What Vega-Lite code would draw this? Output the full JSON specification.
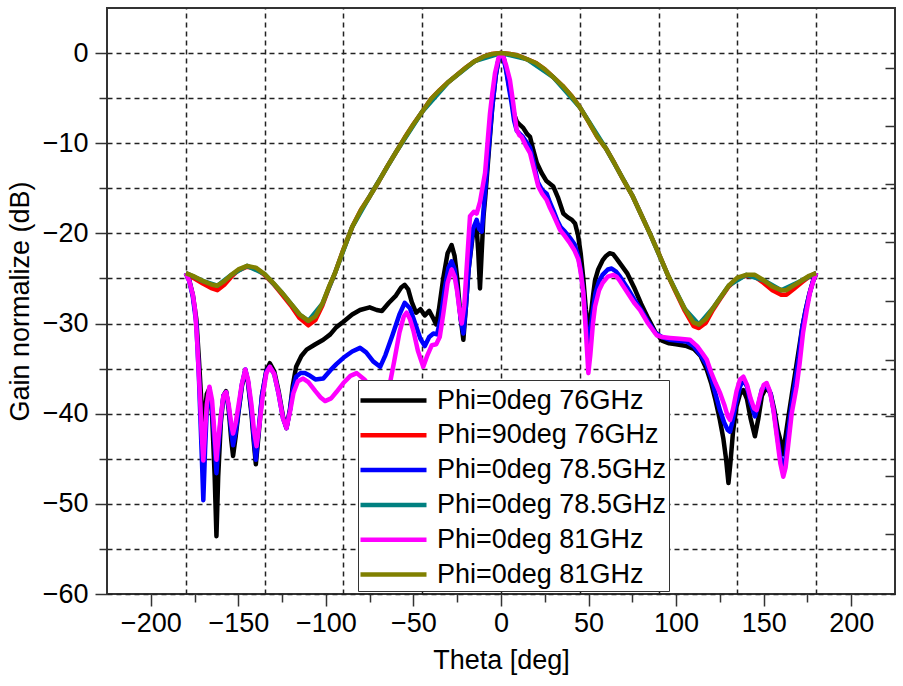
{
  "$schema": "https://vega.github.io/schema/vega-lite/v6.json",
  "width": 788,
  "height": 586,
  "autosize": "none",
  "padding": {"left": 107, "top": 8, "right": 8, "bottom": 92},
  "background": "white",
  "config": {
    "view": {"stroke": "#333", "strokeWidth": 2},
    "axis": {
      "labelFont": "Liberation Sans",
      "titleFont": "Liberation Sans",
      "labelFontSize": 27,
      "titleFontSize": 27,
      "labelColor": "black",
      "titleColor": "black",
      "titleFontWeight": "normal",
      "tickColor": "#333",
      "tickWidth": 1.5,
      "domain": false,
      "gridColor": "#222",
      "gridWidth": 1.5,
      "gridDash": [5, 4],
      "gridOpacity": 1
    }
  },
  "datasets": {
    "pattern": [
      {"series":"Phi=0deg 76GHz","theta":-180,"gain":-24.4},{"series":"Phi=0deg 76GHz","theta":-178,"gain":-25.2},{"series":"Phi=0deg 76GHz","theta":-176,"gain":-26.8},{"series":"Phi=0deg 76GHz","theta":-174,"gain":-29.5},{"series":"Phi=0deg 76GHz","theta":-172.5,"gain":-34},{"series":"Phi=0deg 76GHz","theta":-171,"gain":-39},{"series":"Phi=0deg 76GHz","theta":-170,"gain":-44},{"series":"Phi=0deg 76GHz","theta":-169,"gain":-39.5},{"series":"Phi=0deg 76GHz","theta":-168,"gain":-37.8},{"series":"Phi=0deg 76GHz","theta":-166.5,"gain":-37.2},{"series":"Phi=0deg 76GHz","theta":-165,"gain":-40},{"series":"Phi=0deg 76GHz","theta":-163.5,"gain":-47},{"series":"Phi=0deg 76GHz","theta":-162.5,"gain":-53.6},{"series":"Phi=0deg 76GHz","theta":-161.5,"gain":-47},{"series":"Phi=0deg 76GHz","theta":-160,"gain":-41},{"series":"Phi=0deg 76GHz","theta":-158.5,"gain":-38},{"series":"Phi=0deg 76GHz","theta":-157,"gain":-37.5},{"series":"Phi=0deg 76GHz","theta":-155.5,"gain":-39.5},{"series":"Phi=0deg 76GHz","theta":-154,"gain":-43},{"series":"Phi=0deg 76GHz","theta":-153,"gain":-44.7},{"series":"Phi=0deg 76GHz","theta":-151.5,"gain":-42.5},{"series":"Phi=0deg 76GHz","theta":-150,"gain":-40},{"series":"Phi=0deg 76GHz","theta":-148,"gain":-37},{"series":"Phi=0deg 76GHz","theta":-146,"gain":-35.2},{"series":"Phi=0deg 76GHz","theta":-144.5,"gain":-36.5},{"series":"Phi=0deg 76GHz","theta":-142.5,"gain":-40},{"series":"Phi=0deg 76GHz","theta":-141,"gain":-43.5},{"series":"Phi=0deg 76GHz","theta":-140,"gain":-45.6},{"series":"Phi=0deg 76GHz","theta":-138.5,"gain":-42.5},{"series":"Phi=0deg 76GHz","theta":-136.5,"gain":-38},{"series":"Phi=0deg 76GHz","theta":-134,"gain":-35.2},{"series":"Phi=0deg 76GHz","theta":-132,"gain":-34.4},{"series":"Phi=0deg 76GHz","theta":-129.5,"gain":-35.3},{"series":"Phi=0deg 76GHz","theta":-127,"gain":-37.5},{"series":"Phi=0deg 76GHz","theta":-124.5,"gain":-40.3},{"series":"Phi=0deg 76GHz","theta":-122.5,"gain":-41.6},{"series":"Phi=0deg 76GHz","theta":-120.5,"gain":-39.5},{"series":"Phi=0deg 76GHz","theta":-119,"gain":-37},{"series":"Phi=0deg 76GHz","theta":-117,"gain":-34.8},{"series":"Phi=0deg 76GHz","theta":-114,"gain":-33.6},{"series":"Phi=0deg 76GHz","theta":-111,"gain":-32.9},{"series":"Phi=0deg 76GHz","theta":-106,"gain":-32.3},{"series":"Phi=0deg 76GHz","theta":-101.5,"gain":-31.8},{"series":"Phi=0deg 76GHz","theta":-97.5,"gain":-31.2},{"series":"Phi=0deg 76GHz","theta":-94,"gain":-30.4},{"series":"Phi=0deg 76GHz","theta":-90,"gain":-29.8},{"series":"Phi=0deg 76GHz","theta":-85,"gain":-29},{"series":"Phi=0deg 76GHz","theta":-80.5,"gain":-28.5},{"series":"Phi=0deg 76GHz","theta":-75,"gain":-28.2},{"series":"Phi=0deg 76GHz","theta":-71,"gain":-28.5},{"series":"Phi=0deg 76GHz","theta":-68,"gain":-28.6},{"series":"Phi=0deg 76GHz","theta":-64,"gain":-27.7},{"series":"Phi=0deg 76GHz","theta":-60,"gain":-26.9},{"series":"Phi=0deg 76GHz","theta":-57,"gain":-26},{"series":"Phi=0deg 76GHz","theta":-55,"gain":-25.7},{"series":"Phi=0deg 76GHz","theta":-53,"gain":-26.2},{"series":"Phi=0deg 76GHz","theta":-51,"gain":-27.6},{"series":"Phi=0deg 76GHz","theta":-48.5,"gain":-28.8},{"series":"Phi=0deg 76GHz","theta":-46,"gain":-28.4},{"series":"Phi=0deg 76GHz","theta":-43.5,"gain":-29.1},{"series":"Phi=0deg 76GHz","theta":-41,"gain":-28.6},{"series":"Phi=0deg 76GHz","theta":-38.5,"gain":-29.5},{"series":"Phi=0deg 76GHz","theta":-37,"gain":-30.1},{"series":"Phi=0deg 76GHz","theta":-35.5,"gain":-28.5},{"series":"Phi=0deg 76GHz","theta":-33,"gain":-25},{"series":"Phi=0deg 76GHz","theta":-30.5,"gain":-22.2},{"series":"Phi=0deg 76GHz","theta":-28.2,"gain":-21.3},{"series":"Phi=0deg 76GHz","theta":-26.5,"gain":-22.5},{"series":"Phi=0deg 76GHz","theta":-25,"gain":-25},{"series":"Phi=0deg 76GHz","theta":-23,"gain":-29.5},{"series":"Phi=0deg 76GHz","theta":-21.5,"gain":-31.8},{"series":"Phi=0deg 76GHz","theta":-20,"gain":-28},{"series":"Phi=0deg 76GHz","theta":-18.5,"gain":-24},{"series":"Phi=0deg 76GHz","theta":-16,"gain":-20},{"series":"Phi=0deg 76GHz","theta":-14,"gain":-19.2},{"series":"Phi=0deg 76GHz","theta":-13,"gain":-22},{"series":"Phi=0deg 76GHz","theta":-12,"gain":-26.1},{"series":"Phi=0deg 76GHz","theta":-11,"gain":-22},{"series":"Phi=0deg 76GHz","theta":-10,"gain":-18.1},{"series":"Phi=0deg 76GHz","theta":-9,"gain":-16},{"series":"Phi=0deg 76GHz","theta":-7,"gain":-11},{"series":"Phi=0deg 76GHz","theta":-5,"gain":-6},{"series":"Phi=0deg 76GHz","theta":-3,"gain":-2.5},{"series":"Phi=0deg 76GHz","theta":-1.5,"gain":-0.8},{"series":"Phi=0deg 76GHz","theta":0,"gain":0},{"series":"Phi=0deg 76GHz","theta":1.5,"gain":-0.5},{"series":"Phi=0deg 76GHz","theta":3,"gain":-1.8},{"series":"Phi=0deg 76GHz","theta":4.5,"gain":-3.5},{"series":"Phi=0deg 76GHz","theta":6,"gain":-5},{"series":"Phi=0deg 76GHz","theta":7.5,"gain":-6.8},{"series":"Phi=0deg 76GHz","theta":9,"gain":-7.6},{"series":"Phi=0deg 76GHz","theta":11,"gain":-8},{"series":"Phi=0deg 76GHz","theta":12.7,"gain":-8.3},{"series":"Phi=0deg 76GHz","theta":15,"gain":-9},{"series":"Phi=0deg 76GHz","theta":16.6,"gain":-9.3},{"series":"Phi=0deg 76GHz","theta":18.5,"gain":-10.8},{"series":"Phi=0deg 76GHz","theta":20.5,"gain":-12.2},{"series":"Phi=0deg 76GHz","theta":23.2,"gain":-13.3},{"series":"Phi=0deg 76GHz","theta":26,"gain":-14.2},{"series":"Phi=0deg 76GHz","theta":29.9,"gain":-14.8},{"series":"Phi=0deg 76GHz","theta":32.5,"gain":-16},{"series":"Phi=0deg 76GHz","theta":35.6,"gain":-17.8},{"series":"Phi=0deg 76GHz","theta":38,"gain":-18.2},{"series":"Phi=0deg 76GHz","theta":40.5,"gain":-18.5},{"series":"Phi=0deg 76GHz","theta":42.3,"gain":-18.9},{"series":"Phi=0deg 76GHz","theta":44,"gain":-20.2},{"series":"Phi=0deg 76GHz","theta":45.5,"gain":-22.2},{"series":"Phi=0deg 76GHz","theta":47,"gain":-25},{"series":"Phi=0deg 76GHz","theta":48.5,"gain":-28.5},{"series":"Phi=0deg 76GHz","theta":49.9,"gain":-30.7},{"series":"Phi=0deg 76GHz","theta":51,"gain":-29.5},{"series":"Phi=0deg 76GHz","theta":52.5,"gain":-27},{"series":"Phi=0deg 76GHz","theta":53.7,"gain":-25.2},{"series":"Phi=0deg 76GHz","theta":55.5,"gain":-24},{"series":"Phi=0deg 76GHz","theta":58,"gain":-23},{"series":"Phi=0deg 76GHz","theta":60,"gain":-22.5},{"series":"Phi=0deg 76GHz","theta":62,"gain":-22.2},{"series":"Phi=0deg 76GHz","theta":64,"gain":-22.3},{"series":"Phi=0deg 76GHz","theta":66,"gain":-22.8},{"series":"Phi=0deg 76GHz","theta":69,"gain":-23.6},{"series":"Phi=0deg 76GHz","theta":72,"gain":-24.4},{"series":"Phi=0deg 76GHz","theta":76,"gain":-26},{"series":"Phi=0deg 76GHz","theta":80,"gain":-27.8},{"series":"Phi=0deg 76GHz","theta":84,"gain":-29.4},{"series":"Phi=0deg 76GHz","theta":88,"gain":-30.9},{"series":"Phi=0deg 76GHz","theta":92,"gain":-31.9},{"series":"Phi=0deg 76GHz","theta":96,"gain":-32.2},{"series":"Phi=0deg 76GHz","theta":100,"gain":-32.3},{"series":"Phi=0deg 76GHz","theta":106,"gain":-32.5},{"series":"Phi=0deg 76GHz","theta":110,"gain":-32.8},{"series":"Phi=0deg 76GHz","theta":114,"gain":-33.6},{"series":"Phi=0deg 76GHz","theta":117.5,"gain":-35.1},{"series":"Phi=0deg 76GHz","theta":120,"gain":-36.6},{"series":"Phi=0deg 76GHz","theta":122.5,"gain":-38.5},{"series":"Phi=0deg 76GHz","theta":125,"gain":-40.7},{"series":"Phi=0deg 76GHz","theta":127,"gain":-42.8},{"series":"Phi=0deg 76GHz","theta":128.5,"gain":-45},{"series":"Phi=0deg 76GHz","theta":129.9,"gain":-47.7},{"series":"Phi=0deg 76GHz","theta":131,"gain":-45.5},{"series":"Phi=0deg 76GHz","theta":132.5,"gain":-42},{"series":"Phi=0deg 76GHz","theta":134.5,"gain":-39.2},{"series":"Phi=0deg 76GHz","theta":136.5,"gain":-37.8},{"series":"Phi=0deg 76GHz","theta":138.4,"gain":-37.4},{"series":"Phi=0deg 76GHz","theta":140.5,"gain":-38.4},{"series":"Phi=0deg 76GHz","theta":142.5,"gain":-40.5},{"series":"Phi=0deg 76GHz","theta":145,"gain":-42.5},{"series":"Phi=0deg 76GHz","theta":147,"gain":-40.5},{"series":"Phi=0deg 76GHz","theta":149,"gain":-38},{"series":"Phi=0deg 76GHz","theta":151.7,"gain":-37},{"series":"Phi=0deg 76GHz","theta":154,"gain":-37.8},{"series":"Phi=0deg 76GHz","theta":156,"gain":-39.5},{"series":"Phi=0deg 76GHz","theta":158,"gain":-41.8},{"series":"Phi=0deg 76GHz","theta":159.5,"gain":-42.9},{"series":"Phi=0deg 76GHz","theta":161,"gain":-44.5},{"series":"Phi=0deg 76GHz","theta":162.5,"gain":-42.5},{"series":"Phi=0deg 76GHz","theta":164,"gain":-40.5},{"series":"Phi=0deg 76GHz","theta":166,"gain":-38},{"series":"Phi=0deg 76GHz","theta":168,"gain":-35.5},{"series":"Phi=0deg 76GHz","theta":170,"gain":-33},{"series":"Phi=0deg 76GHz","theta":172,"gain":-30.5},{"series":"Phi=0deg 76GHz","theta":174,"gain":-28.5},{"series":"Phi=0deg 76GHz","theta":176,"gain":-26.8},{"series":"Phi=0deg 76GHz","theta":178,"gain":-25.4},{"series":"Phi=0deg 76GHz","theta":180,"gain":-24.4},

      {"series":"Phi=90deg 76GHz","theta":-180,"gain":-24.4},{"series":"Phi=90deg 76GHz","theta":-175,"gain":-25},{"series":"Phi=90deg 76GHz","theta":-170,"gain":-25.6},{"series":"Phi=90deg 76GHz","theta":-165,"gain":-26.1},{"series":"Phi=90deg 76GHz","theta":-162,"gain":-26.3},{"series":"Phi=90deg 76GHz","theta":-158,"gain":-25.7},{"series":"Phi=90deg 76GHz","theta":-154,"gain":-24.8},{"series":"Phi=90deg 76GHz","theta":-150,"gain":-24.1},{"series":"Phi=90deg 76GHz","theta":-145,"gain":-23.7},{"series":"Phi=90deg 76GHz","theta":-140,"gain":-23.9},{"series":"Phi=90deg 76GHz","theta":-135,"gain":-24.6},{"series":"Phi=90deg 76GHz","theta":-130,"gain":-25.6},{"series":"Phi=90deg 76GHz","theta":-125,"gain":-26.8},{"series":"Phi=90deg 76GHz","theta":-120,"gain":-28},{"series":"Phi=90deg 76GHz","theta":-115,"gain":-29.4},{"series":"Phi=90deg 76GHz","theta":-110,"gain":-30.2},{"series":"Phi=90deg 76GHz","theta":-106,"gain":-29.6},{"series":"Phi=90deg 76GHz","theta":-102,"gain":-28},{"series":"Phi=90deg 76GHz","theta":-98,"gain":-25.9},{"series":"Phi=90deg 76GHz","theta":-95,"gain":-24.5},{"series":"Phi=90deg 76GHz","theta":-90,"gain":-21.8},{"series":"Phi=90deg 76GHz","theta":-85,"gain":-19.3},{"series":"Phi=90deg 76GHz","theta":-80,"gain":-17.4},{"series":"Phi=90deg 76GHz","theta":-75,"gain":-15.9},{"series":"Phi=90deg 76GHz","theta":-70,"gain":-14.3},{"series":"Phi=90deg 76GHz","theta":-65,"gain":-12.6},{"series":"Phi=90deg 76GHz","theta":-60,"gain":-11},{"series":"Phi=90deg 76GHz","theta":-55,"gain":-9.4},{"series":"Phi=90deg 76GHz","theta":-50,"gain":-7.9},{"series":"Phi=90deg 76GHz","theta":-45,"gain":-6.5},{"series":"Phi=90deg 76GHz","theta":-40,"gain":-5.1},{"series":"Phi=90deg 76GHz","theta":-35,"gain":-4.1},{"series":"Phi=90deg 76GHz","theta":-30,"gain":-3.2},{"series":"Phi=90deg 76GHz","theta":-25,"gain":-2.4},{"series":"Phi=90deg 76GHz","theta":-20,"gain":-1.6},{"series":"Phi=90deg 76GHz","theta":-15,"gain":-0.9},{"series":"Phi=90deg 76GHz","theta":-10,"gain":-0.4},{"series":"Phi=90deg 76GHz","theta":-5,"gain":-0.1},{"series":"Phi=90deg 76GHz","theta":0,"gain":0},{"series":"Phi=90deg 76GHz","theta":5,"gain":-0.1},{"series":"Phi=90deg 76GHz","theta":10,"gain":-0.3},{"series":"Phi=90deg 76GHz","theta":15,"gain":-0.7},{"series":"Phi=90deg 76GHz","theta":20,"gain":-1.1},{"series":"Phi=90deg 76GHz","theta":25,"gain":-1.8},{"series":"Phi=90deg 76GHz","theta":30,"gain":-2.7},{"series":"Phi=90deg 76GHz","theta":35,"gain":-3.6},{"series":"Phi=90deg 76GHz","theta":40,"gain":-4.7},{"series":"Phi=90deg 76GHz","theta":45,"gain":-6},{"series":"Phi=90deg 76GHz","theta":50,"gain":-7.6},{"series":"Phi=90deg 76GHz","theta":55,"gain":-9.3},{"series":"Phi=90deg 76GHz","theta":60,"gain":-10.6},{"series":"Phi=90deg 76GHz","theta":65,"gain":-12.3},{"series":"Phi=90deg 76GHz","theta":70,"gain":-14.1},{"series":"Phi=90deg 76GHz","theta":75,"gain":-15.8},{"series":"Phi=90deg 76GHz","theta":80,"gain":-17.9},{"series":"Phi=90deg 76GHz","theta":85,"gain":-20},{"series":"Phi=90deg 76GHz","theta":90,"gain":-22.2},{"series":"Phi=90deg 76GHz","theta":95,"gain":-24.5},{"series":"Phi=90deg 76GHz","theta":100,"gain":-26.6},{"series":"Phi=90deg 76GHz","theta":105,"gain":-28.6},{"series":"Phi=90deg 76GHz","theta":110,"gain":-30.3},{"series":"Phi=90deg 76GHz","theta":113,"gain":-30.5},{"series":"Phi=90deg 76GHz","theta":117,"gain":-29.9},{"series":"Phi=90deg 76GHz","theta":121,"gain":-28.5},{"series":"Phi=90deg 76GHz","theta":125,"gain":-27.3},{"series":"Phi=90deg 76GHz","theta":130,"gain":-25.9},{"series":"Phi=90deg 76GHz","theta":135,"gain":-25},{"series":"Phi=90deg 76GHz","theta":140,"gain":-24.7},{"series":"Phi=90deg 76GHz","theta":145,"gain":-24.8},{"series":"Phi=90deg 76GHz","theta":150,"gain":-25.5},{"series":"Phi=90deg 76GHz","theta":155,"gain":-26.3},{"series":"Phi=90deg 76GHz","theta":160,"gain":-26.8},{"series":"Phi=90deg 76GHz","theta":163,"gain":-26.8},{"series":"Phi=90deg 76GHz","theta":167,"gain":-26.2},{"series":"Phi=90deg 76GHz","theta":172,"gain":-25.4},{"series":"Phi=90deg 76GHz","theta":176,"gain":-24.8},{"series":"Phi=90deg 76GHz","theta":180,"gain":-24.4},

      {"series":"Phi=0deg 78.5GHz","theta":-180,"gain":-24.4},{"series":"Phi=0deg 78.5GHz","theta":-178,"gain":-25.3},{"series":"Phi=0deg 78.5GHz","theta":-176,"gain":-27},{"series":"Phi=0deg 78.5GHz","theta":-174,"gain":-30},{"series":"Phi=0deg 78.5GHz","theta":-172.5,"gain":-36},{"series":"Phi=0deg 78.5GHz","theta":-171,"gain":-44},{"series":"Phi=0deg 78.5GHz","theta":-170,"gain":-49.6},{"series":"Phi=0deg 78.5GHz","theta":-169,"gain":-44},{"series":"Phi=0deg 78.5GHz","theta":-168,"gain":-39.5},{"series":"Phi=0deg 78.5GHz","theta":-166.5,"gain":-37.5},{"series":"Phi=0deg 78.5GHz","theta":-165,"gain":-39.5},{"series":"Phi=0deg 78.5GHz","theta":-163.5,"gain":-43.5},{"series":"Phi=0deg 78.5GHz","theta":-162.5,"gain":-46.6},{"series":"Phi=0deg 78.5GHz","theta":-161.5,"gain":-44},{"series":"Phi=0deg 78.5GHz","theta":-160,"gain":-40.5},{"series":"Phi=0deg 78.5GHz","theta":-158.5,"gain":-38},{"series":"Phi=0deg 78.5GHz","theta":-157,"gain":-37.6},{"series":"Phi=0deg 78.5GHz","theta":-155.5,"gain":-39.3},{"series":"Phi=0deg 78.5GHz","theta":-154,"gain":-42},{"series":"Phi=0deg 78.5GHz","theta":-153,"gain":-43.5},{"series":"Phi=0deg 78.5GHz","theta":-151.5,"gain":-42},{"series":"Phi=0deg 78.5GHz","theta":-150,"gain":-39.8},{"series":"Phi=0deg 78.5GHz","theta":-148,"gain":-36.8},{"series":"Phi=0deg 78.5GHz","theta":-146,"gain":-35.1},{"series":"Phi=0deg 78.5GHz","theta":-144.5,"gain":-36.4},{"series":"Phi=0deg 78.5GHz","theta":-142.5,"gain":-39.6},{"series":"Phi=0deg 78.5GHz","theta":-141,"gain":-43},{"series":"Phi=0deg 78.5GHz","theta":-140,"gain":-45.1},{"series":"Phi=0deg 78.5GHz","theta":-138.5,"gain":-42},{"series":"Phi=0deg 78.5GHz","theta":-136.5,"gain":-38},{"series":"Phi=0deg 78.5GHz","theta":-134,"gain":-35.3},{"series":"Phi=0deg 78.5GHz","theta":-132,"gain":-34.8},{"series":"Phi=0deg 78.5GHz","theta":-129.5,"gain":-35.6},{"series":"Phi=0deg 78.5GHz","theta":-127,"gain":-37.8},{"series":"Phi=0deg 78.5GHz","theta":-124.5,"gain":-40.5},{"series":"Phi=0deg 78.5GHz","theta":-122.5,"gain":-41.6},{"series":"Phi=0deg 78.5GHz","theta":-120.5,"gain":-39.6},{"series":"Phi=0deg 78.5GHz","theta":-119,"gain":-37.5},{"series":"Phi=0deg 78.5GHz","theta":-117,"gain":-35.9},{"series":"Phi=0deg 78.5GHz","theta":-114.5,"gain":-35.5},{"series":"Phi=0deg 78.5GHz","theta":-112,"gain":-35.5},{"series":"Phi=0deg 78.5GHz","theta":-109,"gain":-35.8},{"series":"Phi=0deg 78.5GHz","theta":-106,"gain":-36.2},{"series":"Phi=0deg 78.5GHz","theta":-101.5,"gain":-36.1},{"series":"Phi=0deg 78.5GHz","theta":-97.5,"gain":-35.2},{"series":"Phi=0deg 78.5GHz","theta":-94,"gain":-34.5},{"series":"Phi=0deg 78.5GHz","theta":-90,"gain":-33.8},{"series":"Phi=0deg 78.5GHz","theta":-85,"gain":-33.1},{"series":"Phi=0deg 78.5GHz","theta":-80.5,"gain":-32.7},{"series":"Phi=0deg 78.5GHz","theta":-77,"gain":-33.2},{"series":"Phi=0deg 78.5GHz","theta":-73,"gain":-34.2},{"series":"Phi=0deg 78.5GHz","theta":-69,"gain":-34.8},{"series":"Phi=0deg 78.5GHz","theta":-66,"gain":-33.5},{"series":"Phi=0deg 78.5GHz","theta":-62,"gain":-31.3},{"series":"Phi=0deg 78.5GHz","theta":-58,"gain":-29},{"series":"Phi=0deg 78.5GHz","theta":-55,"gain":-27.7},{"series":"Phi=0deg 78.5GHz","theta":-52,"gain":-28.3},{"series":"Phi=0deg 78.5GHz","theta":-49,"gain":-30},{"series":"Phi=0deg 78.5GHz","theta":-46,"gain":-31.7},{"series":"Phi=0deg 78.5GHz","theta":-43.5,"gain":-32.5},{"series":"Phi=0deg 78.5GHz","theta":-41,"gain":-31.5},{"series":"Phi=0deg 78.5GHz","theta":-38.6,"gain":-31.1},{"series":"Phi=0deg 78.5GHz","theta":-36.5,"gain":-31.2},{"series":"Phi=0deg 78.5GHz","theta":-34.5,"gain":-29.5},{"series":"Phi=0deg 78.5GHz","theta":-32,"gain":-26},{"series":"Phi=0deg 78.5GHz","theta":-30,"gain":-23.8},{"series":"Phi=0deg 78.5GHz","theta":-28.2,"gain":-23.1},{"series":"Phi=0deg 78.5GHz","theta":-26.5,"gain":-24},{"series":"Phi=0deg 78.5GHz","theta":-25,"gain":-26.2},{"series":"Phi=0deg 78.5GHz","theta":-23,"gain":-29.5},{"series":"Phi=0deg 78.5GHz","theta":-21.5,"gain":-31.1},{"series":"Phi=0deg 78.5GHz","theta":-20,"gain":-28},{"series":"Phi=0deg 78.5GHz","theta":-18.5,"gain":-24},{"series":"Phi=0deg 78.5GHz","theta":-16,"gain":-19.5},{"series":"Phi=0deg 78.5GHz","theta":-13.9,"gain":-18.5},{"series":"Phi=0deg 78.5GHz","theta":-12.5,"gain":-19.5},{"series":"Phi=0deg 78.5GHz","theta":-11,"gain":-19.8},{"series":"Phi=0deg 78.5GHz","theta":-10,"gain":-17.5},{"series":"Phi=0deg 78.5GHz","theta":-8.5,"gain":-14},{"series":"Phi=0deg 78.5GHz","theta":-7,"gain":-10.5},{"series":"Phi=0deg 78.5GHz","theta":-5,"gain":-6},{"series":"Phi=0deg 78.5GHz","theta":-3,"gain":-2.5},{"series":"Phi=0deg 78.5GHz","theta":-1.5,"gain":-0.8},{"series":"Phi=0deg 78.5GHz","theta":0,"gain":0},{"series":"Phi=0deg 78.5GHz","theta":1.5,"gain":-0.6},{"series":"Phi=0deg 78.5GHz","theta":3,"gain":-2},{"series":"Phi=0deg 78.5GHz","theta":4.5,"gain":-3.8},{"series":"Phi=0deg 78.5GHz","theta":6,"gain":-5.5},{"series":"Phi=0deg 78.5GHz","theta":7.5,"gain":-7.5},{"series":"Phi=0deg 78.5GHz","theta":9,"gain":-8.6},{"series":"Phi=0deg 78.5GHz","theta":11,"gain":-9},{"series":"Phi=0deg 78.5GHz","theta":12.5,"gain":-9.3},{"series":"Phi=0deg 78.5GHz","theta":15,"gain":-10},{"series":"Phi=0deg 78.5GHz","theta":16.6,"gain":-10.5},{"series":"Phi=0deg 78.5GHz","theta":18.5,"gain":-12},{"series":"Phi=0deg 78.5GHz","theta":21,"gain":-14.3},{"series":"Phi=0deg 78.5GHz","theta":23.5,"gain":-15.2},{"series":"Phi=0deg 78.5GHz","theta":26.1,"gain":-15.6},{"series":"Phi=0deg 78.5GHz","theta":28,"gain":-16.6},{"series":"Phi=0deg 78.5GHz","theta":30,"gain":-17.5},{"series":"Phi=0deg 78.5GHz","theta":32,"gain":-18.5},{"series":"Phi=0deg 78.5GHz","theta":34,"gain":-19.3},{"series":"Phi=0deg 78.5GHz","theta":36.5,"gain":-19.8},{"series":"Phi=0deg 78.5GHz","theta":39.4,"gain":-20.5},{"series":"Phi=0deg 78.5GHz","theta":42,"gain":-21.2},{"series":"Phi=0deg 78.5GHz","theta":44,"gain":-22.5},{"series":"Phi=0deg 78.5GHz","theta":45.5,"gain":-24},{"series":"Phi=0deg 78.5GHz","theta":47,"gain":-26.5},{"series":"Phi=0deg 78.5GHz","theta":48.5,"gain":-30},{"series":"Phi=0deg 78.5GHz","theta":49.9,"gain":-32.5},{"series":"Phi=0deg 78.5GHz","theta":51,"gain":-31},{"series":"Phi=0deg 78.5GHz","theta":52.5,"gain":-28.5},{"series":"Phi=0deg 78.5GHz","theta":54,"gain":-26.6},{"series":"Phi=0deg 78.5GHz","theta":56,"gain":-25.3},{"series":"Phi=0deg 78.5GHz","theta":58,"gain":-24.6},{"series":"Phi=0deg 78.5GHz","theta":61,"gain":-24},{"series":"Phi=0deg 78.5GHz","theta":63.2,"gain":-23.9},{"series":"Phi=0deg 78.5GHz","theta":65.5,"gain":-24.2},{"series":"Phi=0deg 78.5GHz","theta":68,"gain":-24.8},{"series":"Phi=0deg 78.5GHz","theta":72,"gain":-26},{"series":"Phi=0deg 78.5GHz","theta":76,"gain":-27.3},{"series":"Phi=0deg 78.5GHz","theta":80,"gain":-28.5},{"series":"Phi=0deg 78.5GHz","theta":84,"gain":-29.8},{"series":"Phi=0deg 78.5GHz","theta":88,"gain":-31},{"series":"Phi=0deg 78.5GHz","theta":92,"gain":-31.5},{"series":"Phi=0deg 78.5GHz","theta":96.5,"gain":-31.8},{"series":"Phi=0deg 78.5GHz","theta":101,"gain":-31.9},{"series":"Phi=0deg 78.5GHz","theta":106,"gain":-32},{"series":"Phi=0deg 78.5GHz","theta":110,"gain":-32.5},{"series":"Phi=0deg 78.5GHz","theta":114,"gain":-33.5},{"series":"Phi=0deg 78.5GHz","theta":117.5,"gain":-34.6},{"series":"Phi=0deg 78.5GHz","theta":120,"gain":-36},{"series":"Phi=0deg 78.5GHz","theta":122.5,"gain":-37.8},{"series":"Phi=0deg 78.5GHz","theta":125,"gain":-39.6},{"series":"Phi=0deg 78.5GHz","theta":127.5,"gain":-41},{"series":"Phi=0deg 78.5GHz","theta":129.5,"gain":-41.8},{"series":"Phi=0deg 78.5GHz","theta":130.8,"gain":-42},{"series":"Phi=0deg 78.5GHz","theta":132,"gain":-41},{"series":"Phi=0deg 78.5GHz","theta":134,"gain":-39},{"series":"Phi=0deg 78.5GHz","theta":136.5,"gain":-37},{"series":"Phi=0deg 78.5GHz","theta":138.4,"gain":-36.2},{"series":"Phi=0deg 78.5GHz","theta":140.5,"gain":-37},{"series":"Phi=0deg 78.5GHz","theta":142.5,"gain":-38.8},{"series":"Phi=0deg 78.5GHz","theta":145,"gain":-40.3},{"series":"Phi=0deg 78.5GHz","theta":147,"gain":-39},{"series":"Phi=0deg 78.5GHz","theta":149,"gain":-37.3},{"series":"Phi=0deg 78.5GHz","theta":151.7,"gain":-36.8},{"series":"Phi=0deg 78.5GHz","theta":154,"gain":-37.8},{"series":"Phi=0deg 78.5GHz","theta":156,"gain":-40},{"series":"Phi=0deg 78.5GHz","theta":158,"gain":-42.8},{"series":"Phi=0deg 78.5GHz","theta":159.5,"gain":-44.8},{"series":"Phi=0deg 78.5GHz","theta":161.2,"gain":-45.9},{"series":"Phi=0deg 78.5GHz","theta":162.5,"gain":-45},{"series":"Phi=0deg 78.5GHz","theta":164,"gain":-42},{"series":"Phi=0deg 78.5GHz","theta":166,"gain":-39},{"series":"Phi=0deg 78.5GHz","theta":168,"gain":-36.5},{"series":"Phi=0deg 78.5GHz","theta":170,"gain":-33.8},{"series":"Phi=0deg 78.5GHz","theta":172,"gain":-30.5},{"series":"Phi=0deg 78.5GHz","theta":174,"gain":-28.5},{"series":"Phi=0deg 78.5GHz","theta":176,"gain":-26.8},{"series":"Phi=0deg 78.5GHz","theta":178,"gain":-25.4},{"series":"Phi=0deg 78.5GHz","theta":180,"gain":-24.4},

      {"series":"Phi=0deg 78.5GHz (2)","theta":-180,"gain":-24.4},{"series":"Phi=0deg 78.5GHz (2)","theta":-170,"gain":-25.3},{"series":"Phi=0deg 78.5GHz (2)","theta":-162,"gain":-25.8},{"series":"Phi=0deg 78.5GHz (2)","theta":-154,"gain":-24.6},{"series":"Phi=0deg 78.5GHz (2)","theta":-145,"gain":-23.6},{"series":"Phi=0deg 78.5GHz (2)","theta":-135,"gain":-24.5},{"series":"Phi=0deg 78.5GHz (2)","theta":-125,"gain":-26.6},{"series":"Phi=0deg 78.5GHz (2)","theta":-115,"gain":-29},{"series":"Phi=0deg 78.5GHz (2)","theta":-110,"gain":-29.7},{"series":"Phi=0deg 78.5GHz (2)","theta":-102,"gain":-27.8},{"series":"Phi=0deg 78.5GHz (2)","theta":-95,"gain":-24.5},{"series":"Phi=0deg 78.5GHz (2)","theta":-85,"gain":-19.3},{"series":"Phi=0deg 78.5GHz (2)","theta":-75,"gain":-15.9},{"series":"Phi=0deg 78.5GHz (2)","theta":-60,"gain":-11},{"series":"Phi=0deg 78.5GHz (2)","theta":-45,"gain":-6.5},{"series":"Phi=0deg 78.5GHz (2)","theta":-30,"gain":-3.2},{"series":"Phi=0deg 78.5GHz (2)","theta":-15,"gain":-0.9},{"series":"Phi=0deg 78.5GHz (2)","theta":0,"gain":0},{"series":"Phi=0deg 78.5GHz (2)","theta":15,"gain":-0.7},{"series":"Phi=0deg 78.5GHz (2)","theta":30,"gain":-2.7},{"series":"Phi=0deg 78.5GHz (2)","theta":45,"gain":-6},{"series":"Phi=0deg 78.5GHz (2)","theta":60,"gain":-10.6},{"series":"Phi=0deg 78.5GHz (2)","theta":75,"gain":-15.8},{"series":"Phi=0deg 78.5GHz (2)","theta":85,"gain":-20},{"series":"Phi=0deg 78.5GHz (2)","theta":95,"gain":-24.5},{"series":"Phi=0deg 78.5GHz (2)","theta":105,"gain":-28.4},{"series":"Phi=0deg 78.5GHz (2)","theta":113,"gain":-30.1},{"series":"Phi=0deg 78.5GHz (2)","theta":121,"gain":-28.3},{"series":"Phi=0deg 78.5GHz (2)","theta":130,"gain":-25.8},{"series":"Phi=0deg 78.5GHz (2)","theta":140,"gain":-24.6},{"series":"Phi=0deg 78.5GHz (2)","theta":150,"gain":-25.2},{"series":"Phi=0deg 78.5GHz (2)","theta":160,"gain":-26.3},{"series":"Phi=0deg 78.5GHz (2)","theta":170,"gain":-25.4},{"series":"Phi=0deg 78.5GHz (2)","theta":180,"gain":-24.4},

      {"series":"Phi=0deg 81GHz","theta":-180,"gain":-24.4},{"series":"Phi=0deg 81GHz","theta":-178,"gain":-25.3},{"series":"Phi=0deg 81GHz","theta":-176,"gain":-26.8},{"series":"Phi=0deg 81GHz","theta":-174.7,"gain":-28.5},{"series":"Phi=0deg 81GHz","theta":-173.5,"gain":-32},{"series":"Phi=0deg 81GHz","theta":-172,"gain":-37.7},{"series":"Phi=0deg 81GHz","theta":-171,"gain":-42},{"series":"Phi=0deg 81GHz","theta":-170,"gain":-45.2},{"series":"Phi=0deg 81GHz","theta":-169,"gain":-42},{"series":"Phi=0deg 81GHz","theta":-168,"gain":-39},{"series":"Phi=0deg 81GHz","theta":-166.5,"gain":-37},{"series":"Phi=0deg 81GHz","theta":-165,"gain":-38.5},{"series":"Phi=0deg 81GHz","theta":-163.5,"gain":-42.5},{"series":"Phi=0deg 81GHz","theta":-162.5,"gain":-45.1},{"series":"Phi=0deg 81GHz","theta":-161.5,"gain":-43},{"series":"Phi=0deg 81GHz","theta":-160,"gain":-40.2},{"series":"Phi=0deg 81GHz","theta":-158.5,"gain":-38},{"series":"Phi=0deg 81GHz","theta":-157,"gain":-37.6},{"series":"Phi=0deg 81GHz","theta":-155.5,"gain":-39},{"series":"Phi=0deg 81GHz","theta":-154,"gain":-41.2},{"series":"Phi=0deg 81GHz","theta":-153,"gain":-42.2},{"series":"Phi=0deg 81GHz","theta":-151.5,"gain":-41},{"series":"Phi=0deg 81GHz","theta":-150,"gain":-39.2},{"series":"Phi=0deg 81GHz","theta":-148,"gain":-36.7},{"series":"Phi=0deg 81GHz","theta":-146,"gain":-35.1},{"series":"Phi=0deg 81GHz","theta":-144.5,"gain":-36.2},{"series":"Phi=0deg 81GHz","theta":-142.5,"gain":-39},{"series":"Phi=0deg 81GHz","theta":-141,"gain":-42},{"series":"Phi=0deg 81GHz","theta":-139.6,"gain":-43.6},{"series":"Phi=0deg 81GHz","theta":-138,"gain":-41.3},{"series":"Phi=0deg 81GHz","theta":-136,"gain":-38},{"series":"Phi=0deg 81GHz","theta":-134,"gain":-35.5},{"series":"Phi=0deg 81GHz","theta":-132,"gain":-34.8},{"series":"Phi=0deg 81GHz","theta":-129.5,"gain":-35.6},{"series":"Phi=0deg 81GHz","theta":-127,"gain":-37.8},{"series":"Phi=0deg 81GHz","theta":-124.5,"gain":-40.5},{"series":"Phi=0deg 81GHz","theta":-122.5,"gain":-41.6},{"series":"Phi=0deg 81GHz","theta":-120.5,"gain":-39.8},{"series":"Phi=0deg 81GHz","theta":-118.5,"gain":-37.7},{"series":"Phi=0deg 81GHz","theta":-116,"gain":-36.4},{"series":"Phi=0deg 81GHz","theta":-113,"gain":-36.1},{"series":"Phi=0deg 81GHz","theta":-110,"gain":-36.5},{"series":"Phi=0deg 81GHz","theta":-106,"gain":-37.5},{"series":"Phi=0deg 81GHz","theta":-103,"gain":-38.2},{"series":"Phi=0deg 81GHz","theta":-100.5,"gain":-38.6},{"series":"Phi=0deg 81GHz","theta":-97,"gain":-38.3},{"series":"Phi=0deg 81GHz","theta":-94,"gain":-37.6},{"series":"Phi=0deg 81GHz","theta":-90,"gain":-36.6},{"series":"Phi=0deg 81GHz","theta":-86,"gain":-35.8},{"series":"Phi=0deg 81GHz","theta":-82.4,"gain":-35.5},{"series":"Phi=0deg 81GHz","theta":-78,"gain":-36.2},{"series":"Phi=0deg 81GHz","theta":-74,"gain":-37.2},{"series":"Phi=0deg 81GHz","theta":-70,"gain":-38.3},{"series":"Phi=0deg 81GHz","theta":-67,"gain":-38.4},{"series":"Phi=0deg 81GHz","theta":-64,"gain":-37.2},{"series":"Phi=0deg 81GHz","theta":-61,"gain":-34.2},{"series":"Phi=0deg 81GHz","theta":-58,"gain":-31},{"series":"Phi=0deg 81GHz","theta":-55.5,"gain":-29.2},{"series":"Phi=0deg 81GHz","theta":-53.9,"gain":-28.8},{"series":"Phi=0deg 81GHz","theta":-52,"gain":-29.5},{"series":"Phi=0deg 81GHz","theta":-50,"gain":-30.8},{"series":"Phi=0deg 81GHz","theta":-47.5,"gain":-33},{"series":"Phi=0deg 81GHz","theta":-44.4,"gain":-34.8},{"series":"Phi=0deg 81GHz","theta":-42,"gain":-33.5},{"series":"Phi=0deg 81GHz","theta":-39.5,"gain":-32.4},{"series":"Phi=0deg 81GHz","theta":-37,"gain":-32.3},{"series":"Phi=0deg 81GHz","theta":-35,"gain":-31.5},{"series":"Phi=0deg 81GHz","theta":-33,"gain":-29},{"series":"Phi=0deg 81GHz","theta":-30.5,"gain":-25.5},{"series":"Phi=0deg 81GHz","theta":-28.2,"gain":-24},{"series":"Phi=0deg 81GHz","theta":-26.5,"gain":-24.8},{"series":"Phi=0deg 81GHz","theta":-25,"gain":-26.5},{"series":"Phi=0deg 81GHz","theta":-23.5,"gain":-28.8},{"series":"Phi=0deg 81GHz","theta":-22.4,"gain":-30},{"series":"Phi=0deg 81GHz","theta":-21,"gain":-28},{"series":"Phi=0deg 81GHz","theta":-19.5,"gain":-23.5},{"series":"Phi=0deg 81GHz","theta":-17.7,"gain":-18.1},{"series":"Phi=0deg 81GHz","theta":-15.5,"gain":-17.6},{"series":"Phi=0deg 81GHz","theta":-13.9,"gain":-17.8},{"series":"Phi=0deg 81GHz","theta":-12,"gain":-16.5},{"series":"Phi=0deg 81GHz","theta":-10.1,"gain":-14.4},{"series":"Phi=0deg 81GHz","theta":-9.1,"gain":-13.3},{"series":"Phi=0deg 81GHz","theta":-7.5,"gain":-9.5},{"series":"Phi=0deg 81GHz","theta":-6.3,"gain":-6.7},{"series":"Phi=0deg 81GHz","theta":-5,"gain":-4.5},{"series":"Phi=0deg 81GHz","theta":-3.4,"gain":-2.2},{"series":"Phi=0deg 81GHz","theta":-1.5,"gain":-0.6},{"series":"Phi=0deg 81GHz","theta":0,"gain":0},{"series":"Phi=0deg 81GHz","theta":1.5,"gain":-0.5},{"series":"Phi=0deg 81GHz","theta":3,"gain":-1.4},{"series":"Phi=0deg 81GHz","theta":5.1,"gain":-3},{"series":"Phi=0deg 81GHz","theta":7,"gain":-5.6},{"series":"Phi=0deg 81GHz","theta":8.9,"gain":-8.5},{"series":"Phi=0deg 81GHz","theta":10.5,"gain":-9.1},{"series":"Phi=0deg 81GHz","theta":11.8,"gain":-9.3},{"series":"Phi=0deg 81GHz","theta":14,"gain":-10.2},{"series":"Phi=0deg 81GHz","theta":16.6,"gain":-11.1},{"series":"Phi=0deg 81GHz","theta":19,"gain":-13},{"series":"Phi=0deg 81GHz","theta":21.3,"gain":-14.8},{"series":"Phi=0deg 81GHz","theta":23.5,"gain":-15.6},{"series":"Phi=0deg 81GHz","theta":26.1,"gain":-16.3},{"series":"Phi=0deg 81GHz","theta":28,"gain":-17.2},{"series":"Phi=0deg 81GHz","theta":30,"gain":-18},{"series":"Phi=0deg 81GHz","theta":33.7,"gain":-19.6},{"series":"Phi=0deg 81GHz","theta":36.5,"gain":-20.3},{"series":"Phi=0deg 81GHz","theta":39.4,"gain":-21.1},{"series":"Phi=0deg 81GHz","theta":42,"gain":-21.9},{"series":"Phi=0deg 81GHz","theta":44.2,"gain":-22.9},{"series":"Phi=0deg 81GHz","theta":45.5,"gain":-24.3},{"series":"Phi=0deg 81GHz","theta":47,"gain":-26.6},{"series":"Phi=0deg 81GHz","theta":48.5,"gain":-31},{"series":"Phi=0deg 81GHz","theta":49.9,"gain":-35.5},{"series":"Phi=0deg 81GHz","theta":51,"gain":-33.5},{"series":"Phi=0deg 81GHz","theta":52.5,"gain":-30},{"series":"Phi=0deg 81GHz","theta":53.7,"gain":-28.1},{"series":"Phi=0deg 81GHz","theta":56,"gain":-26.3},{"series":"Phi=0deg 81GHz","theta":58,"gain":-25.5},{"series":"Phi=0deg 81GHz","theta":61,"gain":-24.8},{"series":"Phi=0deg 81GHz","theta":64.2,"gain":-24.6},{"series":"Phi=0deg 81GHz","theta":66,"gain":-24.8},{"series":"Phi=0deg 81GHz","theta":68,"gain":-25.3},{"series":"Phi=0deg 81GHz","theta":72,"gain":-26.5},{"series":"Phi=0deg 81GHz","theta":76,"gain":-27.7},{"series":"Phi=0deg 81GHz","theta":79.4,"gain":-28.5},{"series":"Phi=0deg 81GHz","theta":84,"gain":-30},{"series":"Phi=0deg 81GHz","theta":88.9,"gain":-31.3},{"series":"Phi=0deg 81GHz","theta":92,"gain":-31.5},{"series":"Phi=0deg 81GHz","theta":96.5,"gain":-31.6},{"series":"Phi=0deg 81GHz","theta":102,"gain":-31.7},{"series":"Phi=0deg 81GHz","theta":107.9,"gain":-31.8},{"series":"Phi=0deg 81GHz","theta":112,"gain":-32.5},{"series":"Phi=0deg 81GHz","theta":115,"gain":-33.3},{"series":"Phi=0deg 81GHz","theta":117.5,"gain":-34},{"series":"Phi=0deg 81GHz","theta":120,"gain":-35.4},{"series":"Phi=0deg 81GHz","theta":122.5,"gain":-36.6},{"series":"Phi=0deg 81GHz","theta":125.1,"gain":-37.7},{"series":"Phi=0deg 81GHz","theta":127.5,"gain":-39},{"series":"Phi=0deg 81GHz","theta":129.5,"gain":-40.3},{"series":"Phi=0deg 81GHz","theta":130.8,"gain":-40.7},{"series":"Phi=0deg 81GHz","theta":132.5,"gain":-39.5},{"series":"Phi=0deg 81GHz","theta":134.5,"gain":-37.5},{"series":"Phi=0deg 81GHz","theta":136.5,"gain":-36.2},{"series":"Phi=0deg 81GHz","theta":138.4,"gain":-35.9},{"series":"Phi=0deg 81GHz","theta":140.5,"gain":-36.8},{"series":"Phi=0deg 81GHz","theta":142.5,"gain":-38.3},{"series":"Phi=0deg 81GHz","theta":144.5,"gain":-39.4},{"series":"Phi=0deg 81GHz","theta":146,"gain":-39.6},{"series":"Phi=0deg 81GHz","theta":148,"gain":-38},{"series":"Phi=0deg 81GHz","theta":150,"gain":-36.8},{"series":"Phi=0deg 81GHz","theta":151.7,"gain":-36.6},{"series":"Phi=0deg 81GHz","theta":153.5,"gain":-37.5},{"series":"Phi=0deg 81GHz","theta":155.5,"gain":-39.5},{"series":"Phi=0deg 81GHz","theta":157.5,"gain":-42.5},{"series":"Phi=0deg 81GHz","theta":159.5,"gain":-45.5},{"series":"Phi=0deg 81GHz","theta":161.2,"gain":-47},{"series":"Phi=0deg 81GHz","theta":162.5,"gain":-46},{"series":"Phi=0deg 81GHz","theta":164,"gain":-43.5},{"series":"Phi=0deg 81GHz","theta":166,"gain":-40},{"series":"Phi=0deg 81GHz","theta":168.8,"gain":-37},{"series":"Phi=0deg 81GHz","theta":170.5,"gain":-34.5},{"series":"Phi=0deg 81GHz","theta":172.5,"gain":-31},{"series":"Phi=0deg 81GHz","theta":174.6,"gain":-28.5},{"series":"Phi=0deg 81GHz","theta":176.5,"gain":-26.5},{"series":"Phi=0deg 81GHz","theta":178.5,"gain":-25.2},{"series":"Phi=0deg 81GHz","theta":180,"gain":-24.4},

      {"series":"Phi=0deg 81GHz (2)","theta":-180,"gain":-24.4},{"series":"Phi=0deg 81GHz (2)","theta":-175,"gain":-24.8},{"series":"Phi=0deg 81GHz (2)","theta":-170,"gain":-25.3},{"series":"Phi=0deg 81GHz (2)","theta":-165,"gain":-25.7},{"series":"Phi=0deg 81GHz (2)","theta":-162,"gain":-25.8},{"series":"Phi=0deg 81GHz (2)","theta":-158,"gain":-25.3},{"series":"Phi=0deg 81GHz (2)","theta":-154,"gain":-24.6},{"series":"Phi=0deg 81GHz (2)","theta":-150,"gain":-24},{"series":"Phi=0deg 81GHz (2)","theta":-145,"gain":-23.6},{"series":"Phi=0deg 81GHz (2)","theta":-140,"gain":-23.8},{"series":"Phi=0deg 81GHz (2)","theta":-135,"gain":-24.5},{"series":"Phi=0deg 81GHz (2)","theta":-130,"gain":-25.5},{"series":"Phi=0deg 81GHz (2)","theta":-125,"gain":-26.6},{"series":"Phi=0deg 81GHz (2)","theta":-120,"gain":-27.8},{"series":"Phi=0deg 81GHz (2)","theta":-115,"gain":-29},{"series":"Phi=0deg 81GHz (2)","theta":-110,"gain":-29.7},{"series":"Phi=0deg 81GHz (2)","theta":-106,"gain":-29.2},{"series":"Phi=0deg 81GHz (2)","theta":-102,"gain":-27.8},{"series":"Phi=0deg 81GHz (2)","theta":-98,"gain":-25.8},{"series":"Phi=0deg 81GHz (2)","theta":-95,"gain":-24.5},{"series":"Phi=0deg 81GHz (2)","theta":-90,"gain":-21.8},{"series":"Phi=0deg 81GHz (2)","theta":-85,"gain":-19.3},{"series":"Phi=0deg 81GHz (2)","theta":-80,"gain":-17.4},{"series":"Phi=0deg 81GHz (2)","theta":-75,"gain":-15.9},{"series":"Phi=0deg 81GHz (2)","theta":-70,"gain":-14.3},{"series":"Phi=0deg 81GHz (2)","theta":-65,"gain":-12.6},{"series":"Phi=0deg 81GHz (2)","theta":-60,"gain":-11},{"series":"Phi=0deg 81GHz (2)","theta":-55,"gain":-9.4},{"series":"Phi=0deg 81GHz (2)","theta":-50,"gain":-7.9},{"series":"Phi=0deg 81GHz (2)","theta":-45,"gain":-6.5},{"series":"Phi=0deg 81GHz (2)","theta":-40,"gain":-5.1},{"series":"Phi=0deg 81GHz (2)","theta":-35,"gain":-4.1},{"series":"Phi=0deg 81GHz (2)","theta":-30,"gain":-3.2},{"series":"Phi=0deg 81GHz (2)","theta":-25,"gain":-2.4},{"series":"Phi=0deg 81GHz (2)","theta":-20,"gain":-1.6},{"series":"Phi=0deg 81GHz (2)","theta":-15,"gain":-0.9},{"series":"Phi=0deg 81GHz (2)","theta":-10,"gain":-0.4},{"series":"Phi=0deg 81GHz (2)","theta":-5,"gain":-0.1},{"series":"Phi=0deg 81GHz (2)","theta":0,"gain":0},{"series":"Phi=0deg 81GHz (2)","theta":5,"gain":-0.1},{"series":"Phi=0deg 81GHz (2)","theta":10,"gain":-0.3},{"series":"Phi=0deg 81GHz (2)","theta":15,"gain":-0.7},{"series":"Phi=0deg 81GHz (2)","theta":20,"gain":-1.1},{"series":"Phi=0deg 81GHz (2)","theta":25,"gain":-1.8},{"series":"Phi=0deg 81GHz (2)","theta":30,"gain":-2.7},{"series":"Phi=0deg 81GHz (2)","theta":35,"gain":-3.6},{"series":"Phi=0deg 81GHz (2)","theta":40,"gain":-4.7},{"series":"Phi=0deg 81GHz (2)","theta":45,"gain":-6},{"series":"Phi=0deg 81GHz (2)","theta":50,"gain":-7.6},{"series":"Phi=0deg 81GHz (2)","theta":55,"gain":-9.3},{"series":"Phi=0deg 81GHz (2)","theta":60,"gain":-10.6},{"series":"Phi=0deg 81GHz (2)","theta":65,"gain":-12.3},{"series":"Phi=0deg 81GHz (2)","theta":70,"gain":-14.1},{"series":"Phi=0deg 81GHz (2)","theta":75,"gain":-15.8},{"series":"Phi=0deg 81GHz (2)","theta":80,"gain":-17.9},{"series":"Phi=0deg 81GHz (2)","theta":85,"gain":-20},{"series":"Phi=0deg 81GHz (2)","theta":90,"gain":-22.2},{"series":"Phi=0deg 81GHz (2)","theta":95,"gain":-24.5},{"series":"Phi=0deg 81GHz (2)","theta":100,"gain":-26.5},{"series":"Phi=0deg 81GHz (2)","theta":105,"gain":-28.4},{"series":"Phi=0deg 81GHz (2)","theta":110,"gain":-29.9},{"series":"Phi=0deg 81GHz (2)","theta":113,"gain":-30.1},{"series":"Phi=0deg 81GHz (2)","theta":117,"gain":-29.5},{"series":"Phi=0deg 81GHz (2)","theta":121,"gain":-28.3},{"series":"Phi=0deg 81GHz (2)","theta":125,"gain":-27.2},{"series":"Phi=0deg 81GHz (2)","theta":130,"gain":-25.8},{"series":"Phi=0deg 81GHz (2)","theta":135,"gain":-24.9},{"series":"Phi=0deg 81GHz (2)","theta":140,"gain":-24.6},{"series":"Phi=0deg 81GHz (2)","theta":145,"gain":-24.6},{"series":"Phi=0deg 81GHz (2)","theta":150,"gain":-25.2},{"series":"Phi=0deg 81GHz (2)","theta":155,"gain":-25.9},{"series":"Phi=0deg 81GHz (2)","theta":160,"gain":-26.3},{"series":"Phi=0deg 81GHz (2)","theta":163,"gain":-26.3},{"series":"Phi=0deg 81GHz (2)","theta":167,"gain":-25.8},{"series":"Phi=0deg 81GHz (2)","theta":172,"gain":-25.2},{"series":"Phi=0deg 81GHz (2)","theta":176,"gain":-24.7},{"series":"Phi=0deg 81GHz (2)","theta":180,"gain":-24.4}
    ]
  },
  "data": {"name": "pattern"},
  "resolve": {"axis": {"x": "independent", "y": "independent"}},
  "layer": [
    {
      "mark": {"type": "point", "opacity": 0},
      "encoding": {
        "x": {
          "field": "theta", "type": "quantitative",
          "scale": {"domain": [-225, 225], "nice": false, "zero": false},
          "axis": {"orient": "top", "values": [-180, -135, -90, -45, 0, 45, 90, 135, 180], "grid": true, "ticks": false, "labels": false, "title": null}
        },
        "y": {
          "field": "gain", "type": "quantitative",
          "scale": {"domain": [-60, 5], "nice": false, "zero": false},
          "axis": {"orient": "right", "values": [-1.6, -8.1, -14.5, -21, -27.5, -34, -40.3, -46.9, -53.4], "grid": false, "tickSize": -10, "labels": false, "title": null}
        }
      }
    },
    {
      "mark": {"type": "point", "opacity": 0},
      "encoding": {
        "x": {
          "field": "theta", "type": "quantitative",
          "axis": {"orient": "bottom", "values": [-175, -125, -75, -25, 25, 75, 125, 175], "grid": false, "tickSize": 8, "labels": false, "title": null}
        },
        "y": {
          "field": "gain", "type": "quantitative",
          "axis": {"orient": "left", "values": [-55, -45, -35, -25, -15, -5], "grid": true, "tickSize": 8, "labels": false, "title": null}
        }
      }
    },
    {
      "mark": {"type": "line", "strokeWidth": 4.5, "strokeJoin": "round"},
      "encoding": {
        "x": {
          "field": "theta", "type": "quantitative",
          "axis": {"orient": "bottom", "values": [-200, -150, -100, -50, 0, 50, 100, 150, 200], "grid": false, "tickSize": 12, "labelPadding": 4, "title": "Theta [deg]", "titlePadding": 11}
        },
        "y": {
          "field": "gain", "type": "quantitative",
          "axis": {"orient": "left", "values": [-60, -50, -40, -30, -20, -10, 0], "grid": true, "tickSize": 12, "labelPadding": 7, "title": "Gain normalize (dB)", "titlePadding": 8}
        },
        "color": {
          "field": "series", "type": "nominal",
          "scale": {
            "domain": ["Phi=0deg 76GHz", "Phi=90deg 76GHz", "Phi=0deg 78.5GHz", "Phi=0deg 78.5GHz (2)", "Phi=0deg 81GHz", "Phi=0deg 81GHz (2)"],
            "range": ["#000000", "#ff0000", "#0000ff", "#008080", "#ff00ff", "#808000"]
          },
          "legend": {
            "orient": "none", "legendX": 251, "legendY": 372,
            "title": null,
            "symbolType": "M-1.2,0H3.2", "symbolSize": 900, "symbolStrokeWidth": 4.5,
            "labelFont": "Liberation Sans", "labelFontSize": 27, "labelColor": "black", "labelLimit": 400,
            "labelExpr": "replace(datum.label, ' (2)', '')",
            "labelOffset": 41, "rowPadding": 3.8, "padding": 3,
            "strokeColor": "#333", "fillColor": "white"
          }
        }
      }
    }
  ]
}
